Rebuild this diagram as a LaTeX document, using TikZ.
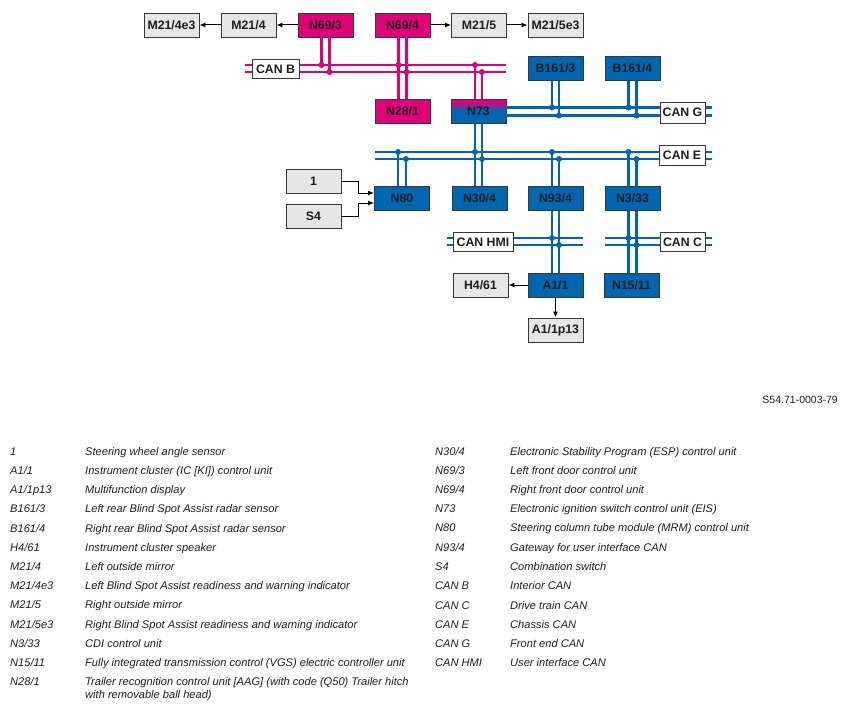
\documentclass[tikz,border=0pt]{standalone}
\usepackage{fontspec}
\setmainfont{Liberation Sans}
\usetikzlibrary{arrows.meta}
\definecolor{canpink}{RGB}{224,0,122}
\definecolor{canblue}{RGB}{0,102,178}
\definecolor{boxgrey}{RGB}{230,230,230}
\definecolor{boxline}{RGB}{55,55,55}
\definecolor{inktext}{RGB}{30,30,30}
\tikzset{
  unit/.style={
    draw=boxline,
    line width=0.9pt,
    minimum width=55pt,
    minimum height=24pt,
    inner sep=0pt,
    text=inktext,
    font=\bfseries\fontsize{12.3}{14}\selectfont
  },
  unit-pink/.style={unit, fill=canpink},
  unit-blue/.style={unit, fill=canblue},
  unit-grey/.style={unit, fill=boxgrey},
  unit-split/.style={unit, fill=canblue,
    path picture={
      \fill[canpink] (path picture bounding box.north west) rectangle ([yshift=-4.2pt]path picture bounding box.north east);
      \foreach \k in {0,...,6} {
        \pgfmathtruncatemacro{\mix}{93-\k*14}
        \fill[canpink!\mix!canblue] ([yshift={-(4+\k)*1pt}]path picture bounding box.north west) rectangle ([yshift={-(5.2+\k)*1pt}]path picture bounding box.north east);
      }
    }
  },
  bus-tag/.style={draw=boxline, line width=0.9pt, fill=white, inner xsep=2.5pt, inner ysep=0pt,
    minimum height=19pt, text=inktext, font=\bfseries\fontsize{12.3}{14}\selectfont},
  bus-pink/.style={draw=canpink, line width=2.5pt},
  bus-blue/.style={draw=canblue, line width=2.5pt},
  sig/.style={draw=black, line width=1pt, -{Latex[length=6pt,width=5pt]}},
  leg-code/.style={anchor=base west, inner sep=0pt, text=inktext, font=\itshape\fontsize{11.1}{13}\selectfont},
  leg-text/.style={leg-code}
}
\newcommand{\tap}[2]{\fill[#1] (#2) circle (3pt);}
\newcommand{\legentry}[5]{%
  \node[leg-code] (#1-code) at (#2,#3) {#4};
  \node[leg-text] (#1-text) at (#2+75,#3) {#5};
}

\begin{document}
\begin{tikzpicture}[x=1pt, y=-1pt]
  \useasboundingbox (0,0) rectangle (847,709);
  % Row 1
  \node[unit-grey] (m214e3) at (171.5,25) {M21/4e3};
  \node[unit-grey] (m214)   at (248.5,25) {M21/4};
  \node[unit-pink] (n693)   at (325.5,25) {N69/3};
  \node[unit-pink] (n694)   at (402.5,25) {N69/4};
  \node[unit-grey] (m215)   at (479,25)   {M21/5};
  \node[unit-grey] (m215e3) at (555.5,25) {M21/5e3};
  % Row 2
  \node[unit-blue] (b1613) at (555.5,68.5) {B161/3};
  \node[unit-blue] (b1614) at (632.5,68.5) {B161/4};
  % Row 3
  \node[unit-pink]  (n281) at (402.5,111.5) {N28/1};
  \node[unit-split] (n73)  at (478.5,111.5) {N73};
  % Row 4
  \node[unit-grey] (k1)   at (313.5,181)   {1};
  \node[unit-grey] (s4)   at (313.5,216.5) {S4};
  \node[unit-blue] (n80)  at (402,198.5)   {N80};
  \node[unit-blue] (n304) at (479.5,198.5) {N30/4};
  \node[unit-blue] (n934) at (555.5,198.5) {N93/4};
  \node[unit-blue] (n333) at (632.5,198.5) {N3/33};
  % Row 5
  \node[unit-grey] (h461)   at (480.5,285) {H4/61};
  \node[unit-blue] (a11)    at (555.5,285) {A1/1};
  \node[unit-blue] (n1511)  at (631.5,285) {N15/11};
  \node[unit-grey] (a11p13) at (555.5,330) {A1/1p13};

  % CAN B
  \coordinate (canb-w1) at (245,65);  \coordinate (canb-e1) at (506,65);
  \coordinate (canb-w2) at (245,72);  \coordinate (canb-e2) at (506,72);
  \draw[bus-pink] (canb-w1) -- (canb-e1);
  \draw[bus-pink] (canb-w2) -- (canb-e2);
  \draw[bus-pink] ([xshift=-4pt]n693.south) -- ([xshift=-4pt]n693.south |- canb-w1) coordinate (tb1);
  \draw[bus-pink] ([xshift=4pt]n693.south) -- ([xshift=4pt]n693.south |- canb-w2) coordinate (tb2);
  \draw[bus-pink] ([xshift=-4pt]n694.south) -- ([xshift=-4pt]n281.north);
  \draw[bus-pink] ([xshift=4pt]n694.south) -- ([xshift=4pt]n281.north);
  \coordinate (tb3) at ([xshift=-4pt]n694.south |- canb-w1);
  \coordinate (tb4) at ([xshift=4pt]n694.south |- canb-w2);
  \draw[bus-pink] ([xshift=-3.5pt]n73.north |- canb-w1) coordinate (tb5) -- ([xshift=-3.5pt]n73.north);
  \draw[bus-pink] ([xshift=3.5pt]n73.north |- canb-w2) coordinate (tb6) -- ([xshift=3.5pt]n73.north);
  \tap{canpink}{tb1} \tap{canpink}{tb2} \tap{canpink}{tb3}
  \tap{canpink}{tb4} \tap{canpink}{tb5} \tap{canpink}{tb6}

  % CAN G
  \coordinate (cang-e1) at (712,107.5);
  \coordinate (cang-e2) at (712,115.5);
  \draw[bus-blue] ([yshift=4pt]n73.east) -- (cang-e1);
  \draw[bus-blue] ([yshift=-4pt]n73.east) -- (cang-e2);
  \draw[bus-blue] ([xshift=-3.5pt]b1613.south) -- ([xshift=-3.5pt]b1613.south |- cang-e1) coordinate (tg1);
  \draw[bus-blue] ([xshift=3.5pt]b1613.south) -- ([xshift=3.5pt]b1613.south |- cang-e2) coordinate (tg2);
  \draw[bus-blue] ([xshift=-4pt]b1614.south) -- ([xshift=-4pt]b1614.south |- cang-e1) coordinate (tg3);
  \draw[bus-blue] ([xshift=4pt]b1614.south) -- ([xshift=4pt]b1614.south |- cang-e2) coordinate (tg4);
  \tap{canblue}{tg1} \tap{canblue}{tg2} \tap{canblue}{tg3} \tap{canblue}{tg4}

  % CAN E
  \coordinate (cane-w1) at (375,152);  \coordinate (cane-e1) at (712,152);
  \coordinate (cane-w2) at (375,159);  \coordinate (cane-e2) at (712,159);
  \draw[bus-blue] (cane-w1) -- (cane-e1);
  \draw[bus-blue] (cane-w2) -- (cane-e2);
  \draw[bus-blue] ([xshift=-3.5pt]n73.south) -- ([xshift=-3.5pt]n73.south |- n304.north);
  \draw[bus-blue] ([xshift=3.5pt]n73.south) -- ([xshift=3.5pt]n73.south |- n304.north);
  \coordinate (te1) at ([xshift=-3.5pt]n73.south |- cane-w1);
  \coordinate (te2) at ([xshift=3.5pt]n73.south |- cane-w2);
  \draw[bus-blue] ([xshift=-4pt]n80.north |- cane-w1) coordinate (te3) -- ([xshift=-4pt]n80.north);
  \draw[bus-blue] ([xshift=4pt]n80.north |- cane-w2) coordinate (te4) -- ([xshift=4pt]n80.north);
  \draw[bus-blue] ([xshift=-3.5pt]n934.north |- cane-w1) coordinate (te5) -- ([xshift=-3.5pt]n934.north);
  \draw[bus-blue] ([xshift=3.5pt]n934.north |- cane-w2) coordinate (te6) -- ([xshift=3.5pt]n934.north);
  \draw[bus-blue] ([xshift=-4pt]n333.north |- cane-w1) coordinate (te7) -- ([xshift=-4pt]n333.north);
  \draw[bus-blue] ([xshift=4pt]n333.north |- cane-w2) coordinate (te8) -- ([xshift=4pt]n333.north);
  \tap{canblue}{te1} \tap{canblue}{te2} \tap{canblue}{te3} \tap{canblue}{te4}
  \tap{canblue}{te5} \tap{canblue}{te6} \tap{canblue}{te7} \tap{canblue}{te8}

  % CAN HMI and CAN C
  \coordinate (canhmi-w1) at (447,238);  \coordinate (canhmi-e1) at (583,238);
  \coordinate (canhmi-w2) at (447,245);  \coordinate (canhmi-e2) at (583,245);
  \coordinate (canc-w1) at (605,238);    \coordinate (canc-e1) at (712,238);
  \coordinate (canc-w2) at (605,245);    \coordinate (canc-e2) at (712,245);
  \draw[bus-blue] (canhmi-w1) -- (canhmi-e1);
  \draw[bus-blue] (canhmi-w2) -- (canhmi-e2);
  \draw[bus-blue] (canc-w1) -- (canc-e1);
  \draw[bus-blue] (canc-w2) -- (canc-e2);
  \draw[bus-blue] ([xshift=-3.5pt]n934.south) -- ([xshift=-3.5pt]a11.north);
  \draw[bus-blue] ([xshift=3.5pt]n934.south) -- ([xshift=3.5pt]a11.north);
  \draw[bus-blue] ([xshift=-4pt]n333.south) -- ([xshift=-4pt]n333.south |- n1511.north);
  \draw[bus-blue] ([xshift=4pt]n333.south) -- ([xshift=4pt]n333.south |- n1511.north);
  \coordinate (th1) at ([xshift=-3.5pt]n934.south |- canhmi-w1);
  \coordinate (th2) at ([xshift=3.5pt]n934.south |- canhmi-w2);
  \coordinate (tc1) at ([xshift=-4pt]n333.south |- canc-w1);
  \coordinate (tc2) at ([xshift=4pt]n333.south |- canc-w2);
  \tap{canblue}{th1} \tap{canblue}{th2} \tap{canblue}{tc1} \tap{canblue}{tc2}

  % bus tags
  \node[bus-tag, minimum width=47pt] (tag-canb)   at (275.5,69)  {CAN B};
  \node[bus-tag, minimum width=45pt, minimum height=21pt] (tag-cang) at (682.5,112.5) {CAN G};
  \node[bus-tag, minimum width=46pt, minimum height=20pt] (tag-cane) at (682,155) {CAN E};
  \node[bus-tag, minimum width=60pt] (tag-canhmi) at (483,242)   {CAN HMI};
  \node[bus-tag, minimum width=45pt] (tag-canc)   at (682.5,242) {CAN C};

  % signal lines
  \draw[sig] (n693) -- (m214);
  \draw[sig] (m214) -- (m214e3);
  \draw[sig] (n694) -- (m215);
  \draw[sig] (m215) -- (m215e3);
  \draw[sig] (k1.east) -- ++(17,0) |- ([yshift=5.5pt]n80.west);
  \draw[sig] (s4.east) -- ++(17,0) |- ([yshift=-4.5pt]n80.west);
  \draw[sig] (a11) -- (h461);
  \draw[sig] (a11) -- (a11p13);

  % figure number
  \node[anchor=base east, inner sep=0pt, text=inktext, font=\fontsize{10.5}{12}\selectfont] (fignum) at (838,403) {S54.71-0003-79};

  % Legend, left column
  \legentry{lk1}{10}{455}{1}{Steering wheel angle sensor}
  \legentry{la11}{10}{474}{A1/1}{Instrument cluster (IC [KI]) control unit}
  \legentry{la11p13}{10}{493}{A1/1p13}{Multifunction display}
  \legentry{lb1613}{10}{512}{B161/3}{Left rear Blind Spot Assist radar sensor}
  \legentry{lb1614}{10}{532}{B161/4}{Right rear Blind Spot Assist radar sensor}
  \legentry{lh461}{10}{551}{H4/61}{Instrument cluster speaker}
  \legentry{lm214}{10}{570}{M21/4}{Left outside mirror}
  \legentry{lm214e3}{10}{589}{M21/4e3}{Left Blind Spot Assist readiness and warning indicator}
  \legentry{lm215}{10}{608}{M21/5}{Right outside mirror}
  \legentry{lm215e3}{10}{628}{M21/5e3}{Right Blind Spot Assist readiness and warning indicator}
  \legentry{ln333}{10}{647}{N3/33}{CDI control unit}
  \legentry{ln1511}{10}{666}{N15/11}{Fully integrated transmission control (VGS) electric controller unit}
  \legentry{ln281}{10}{685}{N28/1}{Trailer recognition control unit [AAG] (with code (Q50) Trailer hitch}
  \node[leg-text] (ln281-more) at (85,698) {with removable ball head)};
  % Legend, right column
  \legentry{ln304}{435}{455}{N30/4}{Electronic Stability Program (ESP) control unit}
  \legentry{ln693}{435}{474}{N69/3}{Left front door control unit}
  \legentry{ln694}{435}{493}{N69/4}{Right front door control unit}
  \legentry{ln73}{435}{512}{N73}{Electronic ignition switch control unit (EIS)}
  \legentry{ln80}{435}{531}{N80}{Steering column tube module (MRM) control unit}
  \legentry{ln934}{435}{551}{N93/4}{Gateway for user interface CAN}
  \legentry{ls4}{435}{570}{S4}{Combination switch}
  \legentry{lcanb}{435}{589}{CAN B}{Interior CAN}
  \legentry{lcanc}{435}{609}{CAN C}{Drive train CAN}
  \legentry{lcane}{435}{628}{CAN E}{Chassis CAN}
  \legentry{lcang}{435}{647}{CAN G}{Front end CAN}
  \legentry{lcanhmi}{435}{666}{CAN HMI}{User interface CAN}
\end{tikzpicture}
\end{document}
